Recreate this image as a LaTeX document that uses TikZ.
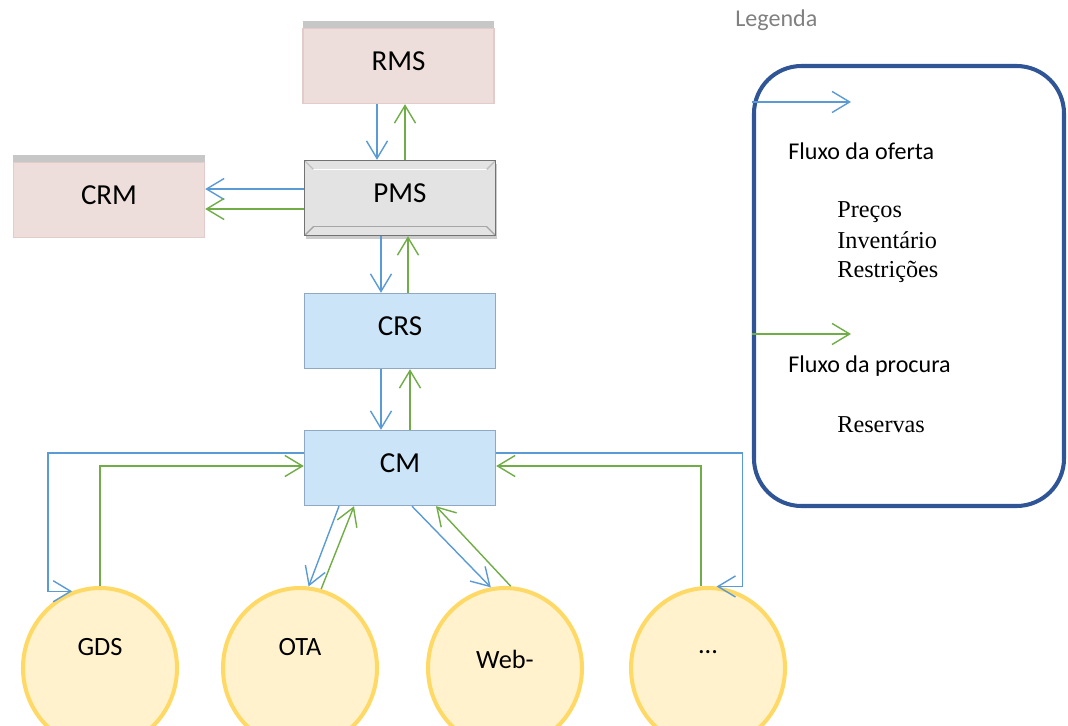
\documentclass[tikz,border=0pt]{standalone}
\usepackage{fontspec}
\setmainfont{Carlito}
\newfontfamily\legendserif{Liberation Serif}
\usetikzlibrary{arrows.meta, positioning, shapes.geometric, shadows, calc}

\definecolor{supplyblue}{HTML}{5B9BD5}
\definecolor{demandgreen}{HTML}{70AD47}
\definecolor{pinkfill}{HTML}{EEDEDB}
\definecolor{pinkline}{HTML}{E2CBC8}
\definecolor{bluefill}{HTML}{CCE4F8}
\definecolor{blueline}{HTML}{8FA9C3}
\definecolor{chanfill}{HTML}{FFF2CC}
\definecolor{chanline}{HTML}{FFD966}
\definecolor{legendline}{HTML}{2F5597}

\begin{document}
\begin{tikzpicture}[
    % Node styles
    sysbox/.style={
        rectangle,
        minimum width=3.82cm,
        minimum height=1.5cm,
        line width=0.8pt,
        font=\fontsize{16.5}{19}\selectfont,
        text height=10.7pt,
        text depth=6pt
    },
    extbox/.style={
        sysbox,
        draw=pinkline,
        fill=pinkfill,
        drop shadow={shadow xshift=0pt, shadow yshift=4pt, fill=black!40, opacity=.55}
    },
    pmsbox/.style={
        sysbox,
        draw=black!55,
        fill=black!11,
        drop shadow={shadow xshift=1pt, shadow yshift=-2pt, fill=black!40, opacity=.5},
        path picture={
            \draw[white, line width=0.6pt]
                ([shift={(5pt,-5pt)}]path picture bounding box.north west) --
                ([shift={(-5pt,-5pt)}]path picture bounding box.north east);
            \draw[black!35, line width=0.6pt]
                ([shift={(5pt,5pt)}]path picture bounding box.south west) --
                ([shift={(-5pt,5pt)}]path picture bounding box.south east);
            \draw[black!25] (path picture bounding box.north west) -- ++(5pt,-5pt);
            \draw[black!25] (path picture bounding box.north east) -- ++(-5pt,-5pt);
            \draw[black!35] (path picture bounding box.south west) -- ++(5pt,5pt);
            \draw[black!35] (path picture bounding box.south east) -- ++(-5pt,5pt);
        }
    },
    crsbox/.style={
        sysbox,
        draw=blueline,
        fill=bluefill
    },
    channel/.style={
        ellipse,
        draw=chanline,
        line width=2.3pt,
        fill=chanfill,
        minimum width=3.08cm,
        minimum height=3.2cm
    },
    chantext/.style={
        font=\fontsize{15}{18}\selectfont,
        anchor=base
    },
    legendbox/.style={
        rectangle,
        rounded corners=0.95cm,
        draw=legendline,
        line width=2.3pt,
        minimum width=6.2cm,
        minimum height=8.8cm
    },
    legendtext/.style={
        font=\fontsize{13.7}{16}\selectfont,
        inner sep=0pt,
        anchor=base west
    },
    legenditem/.style={
        font=\legendserif\fontsize{13.8}{16}\selectfont,
        inner sep=0pt,
        anchor=base west
    },
    flow/.style={
        line width=0.8pt,
        -{Straight Barb[length=10pt, width=12pt]}
    },
    supply/.style={flow, supplyblue},
    demand/.style={flow, demandgreen}
]
\useasboundingbox (0,0) rectangle (21.36,-14.52);

% === Systems ===
\node[extbox] (rms) at (7.97, -1.32) {RMS};
\node[extbox] (crm) at (2.18, -4.0) {CRM};
\node[pmsbox] (pms) at (8.0, -3.96) {PMS};
\node[crsbox] (crs) at (8.0, -6.62) {CRS};
\node[crsbox] (cm) at (8.0, -9.36) {CM};

% === Channels ===
\node[channel] (gds) at (2.0, -13.36) {};
\node[channel] (ota) at (6.0, -13.36) {};
\node[channel] (web) at (10.1, -13.36) {};
\node[channel] (dots) at (14.16, -13.36) {};
\node[chantext] (gdslabel) at ([yshift=0.26cm]gds.center) {GDS};
\node[chantext] (otalabel) at ([yshift=0.26cm]ota.center) {OTA};
\node[chantext] (weblabel) at ([yshift=0cm]web.center) {Web-};
\node[chantext] (dotslabel) at ([yshift=0.3cm]dots.center) {...};

% === Vertical flows ===
\draw[supply] ([xshift=-0.46cm]pms.north |- rms.south) -- ([xshift=-0.46cm]pms.north);
\draw[demand] ([xshift=0.10cm]pms.north) -- ([xshift=0.10cm]pms.north |- rms.south);
\draw[supply] ([xshift=-0.38cm]pms.south) -- ([xshift=-0.38cm]crs.north);
\draw[demand] ([xshift=0.16cm]crs.north) -- ([xshift=0.16cm]pms.south);
\draw[supply] ([xshift=-0.38cm]crs.south) -- ([xshift=-0.38cm]cm.north);
\draw[demand] ([xshift=0.2cm]cm.north) -- ([xshift=0.2cm]crs.south);

% === PMS to CRM ===
\draw[supply] ([yshift=0.18cm]pms.west) -- ([yshift=0.18cm]pms.west -| crm.east);
\draw[demand] ([yshift=-0.22cm]pms.west) -- ([yshift=-0.22cm]pms.west -| crm.east);

% === CM to channels ===
\draw[supply] ([yshift=0.3cm]cm.west) -- ++(-5.12,0) |- (gds.110);
\draw[demand] (gds.north) |- ([yshift=0.04cm]cm.west);
\draw[supply] ([xshift=-1.22cm]cm.south) -- (ota.84);
\draw[demand] (ota.75) -- ([xshift=-0.92cm]cm.south);
\draw[supply] ([xshift=0.24cm]cm.south) -- (web.100);
\draw[demand] (web.86) -- ([xshift=0.72cm]cm.south);
\draw[supply] ([yshift=0.3cm]cm.east) -- ++(4.92,0) |- (dots.84);
\draw[demand] ([xshift=-0.14cm]dots.north) |- ([yshift=0.04cm]cm.east);

% === Legend ===
\node[legendtext, text=black!50] (legendtitle) at (14.7, -0.54) {Legenda};
\node[legendbox] (legend) at (18.18, -5.72) {};
\draw[supply] ([yshift=-0.76cm]legend.north west) -- ++(1.98,0);
\draw[demand] ([yshift=-5.4cm]legend.north west) -- ++(1.98,0);
\node[legendtext] (offer) at (15.76, -3.18) {Fluxo da oferta};
\node[legenditem] (prices) at (16.74, -4.34) {Preços};
\node[legenditem] (stock) at (16.74, -4.96) {Inventário};
\node[legenditem] (limits) at (16.74, -5.54) {Restrições};
\node[legendtext] (demandlabel) at (15.76, -7.44) {Fluxo da procura};
\node[legenditem] (bookings) at (16.74, -8.64) {Reservas};

\end{tikzpicture}
\end{document}
